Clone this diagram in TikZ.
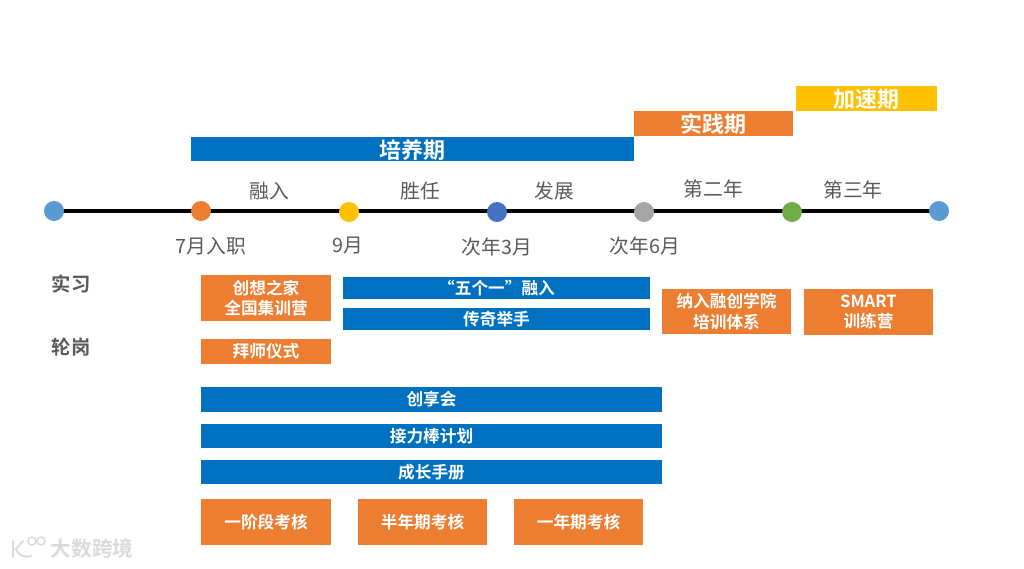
\documentclass[tikz,border=0pt]{standalone}
\usepackage{fontspec}
\setmainfont{Noto Sans CJK SC}
\newfontfamily\cjkbold{Noto Sans CJK SC Bold}
\definecolor{barblue}{RGB}{0,112,192}
\definecolor{barorange}{RGB}{237,125,49}
\definecolor{baryellow}{RGB}{255,192,0}
\definecolor{dotblue}{RGB}{91,155,213}
\definecolor{dotindigo}{RGB}{68,114,196}
\definecolor{dotgray}{RGB}{165,165,165}
\definecolor{dotgreen}{RGB}{112,173,71}
\definecolor{labelgray}{RGB}{89,89,89}
\definecolor{markgray}{RGB}{218,218,218}
\tikzset{every picture/.style={line width=0.75pt},
	bar/.style={inner sep=0pt,align=center,text=white,font=\cjkbold\fontsize{12.5}{15.5}\selectfont},
	phasebar/.style={bar,text height=13.5pt,text depth=0pt,font=\cjkbold\fontsize{16.5}{18}\selectfont},
	dot/.style={circle,inner sep=0pt,minimum size=15pt},
	timelabel/.style={inner sep=0pt,text=labelgray,font=\fontsize{14.8}{17}\selectfont},
	sidelabel/.style={inner sep=0pt,text=labelgray,font=\cjkbold\fontsize{14.5}{17}\selectfont}
}

\begin{document}
\begin{tikzpicture}[x=0.75pt,y=0.75pt,yscale=-1,xscale=1]
	\path[use as bounding box] (0,0) rectangle (1024,568);

	% phases
	\node[phasebar,fill=barblue,minimum width=332.25pt,minimum height=18pt] (peiyang) at (412.5,149) {培养期};
	\node[phasebar,fill=barorange,minimum width=119.25pt,minimum height=18.75pt] (shijian) at (713.5,123.5) {实践期};
	\node[phasebar,fill=baryellow,minimum width=105.75pt,minimum height=18.75pt] (jiasu) at (866.5,98.5) {加速期};

	% time line
	\coordinate (axisL) at (54,211);
	\coordinate (axisR) at (939,211);
	\draw[line width=3pt] (axisL) -- (axisR);
	\node[dot,fill=dotblue] (start) at (axisL) {};
	\node[dot,fill=barorange] (july) at (201,211) {};
	\node[dot,fill=baryellow] (sept) at (349,212) {};
	\node[dot,fill=dotindigo] (march) at (497,212) {};
	\node[dot,fill=dotgray] (june) at (644,212) {};
	\node[dot,fill=dotgreen] (second) at (792,212) {};
	\node[dot,fill=dotblue] (end) at (axisR) {};

	% above the line
	\node[timelabel] (ronru) at (269.5,191) {融入};
	\node[timelabel] (shengren) at (420.5,191) {胜任};
	\node[timelabel] (fazhan) at (554.5,191) {发展};
	\node[timelabel] (year2) at (713.5,189) {第二年};
	\node[timelabel] (year3) at (853,190) {第三年};

	% below the line
	\node[timelabel] (lbljuly) at (211,246) {7月入职};
	\node[timelabel] (lblsept) at (348,246) {9月};
	\node[timelabel] (lblmarch) at (497,247) {次年3月};
	\node[timelabel] (lbljune) at (645,246) {次年6月};

	% left labels
	\node[sidelabel] (shixi) at (71,284) {实习};
	\node[sidelabel] (lungang) at (71,347) {轮岗};

	% first year
	\node[bar,fill=barorange,minimum width=97.5pt,minimum height=34.5pt] (chuangxiang) at (266,298) {创想之家\\全国集训营};
	\node[bar,fill=barorange,minimum width=97.5pt,minimum height=18.75pt] (baishi) at (266,351.5) {拜师仪式};
	\node[bar,fill=barblue,minimum width=230.25pt,minimum height=16.5pt] (wuge) at (496.5,288) {“五个一”融入};
	\node[bar,fill=barblue,minimum width=230.25pt,minimum height=16.5pt] (chuanqi) at (496.5,319) {传奇举手};
	\node[bar,fill=barorange,minimum width=96.75pt,minimum height=33.75pt] (narong) at (726.5,311.5) {纳入融创学院\\培训体系};
	\node[bar,fill=barorange,minimum width=96.75pt,minimum height=34.5pt] (smart) at (868.5,312) {SMART\\训练营};

	% long bars
	\node[bar,fill=barblue,minimum width=345.75pt,minimum height=18.75pt] (chuangxiang2) at (431.5,399.5) {创享会};
	\node[bar,fill=barblue,minimum width=345.75pt,minimum height=18pt] (jieli) at (431.5,436) {接力棒计划};
	\node[bar,fill=barblue,minimum width=345.75pt,minimum height=18pt] (shouce) at (431.5,472) {成长手册};

	% reviews
	\node[bar,fill=barorange,minimum width=97.5pt,minimum height=34.5pt] (exam1) at (266,522) {一阶段考核};
	\node[bar,fill=barorange,minimum width=96.75pt,minimum height=34.5pt] (exam2) at (422.5,522) {半年期考核};
	\node[bar,fill=barorange,minimum width=96.75pt,minimum height=34.5pt] (exam3) at (578.5,522) {一年期考核};

	% watermark
	\node[inner sep=0pt,text=markgray,font=\cjkbold\fontsize{15.5}{18}\selectfont] (mark) at (92,549) {大数跨境};
	\draw[markgray,line width=1.5pt,line cap=round] (13,541) -- (13,557) (23,541) -- (16,549) .. controls (18,555) and (24,558) .. (31,556);
	\draw[markgray,line width=1.1pt] (32,541) circle (4) (41,541) circle (4);
\end{tikzpicture}
\end{document}
